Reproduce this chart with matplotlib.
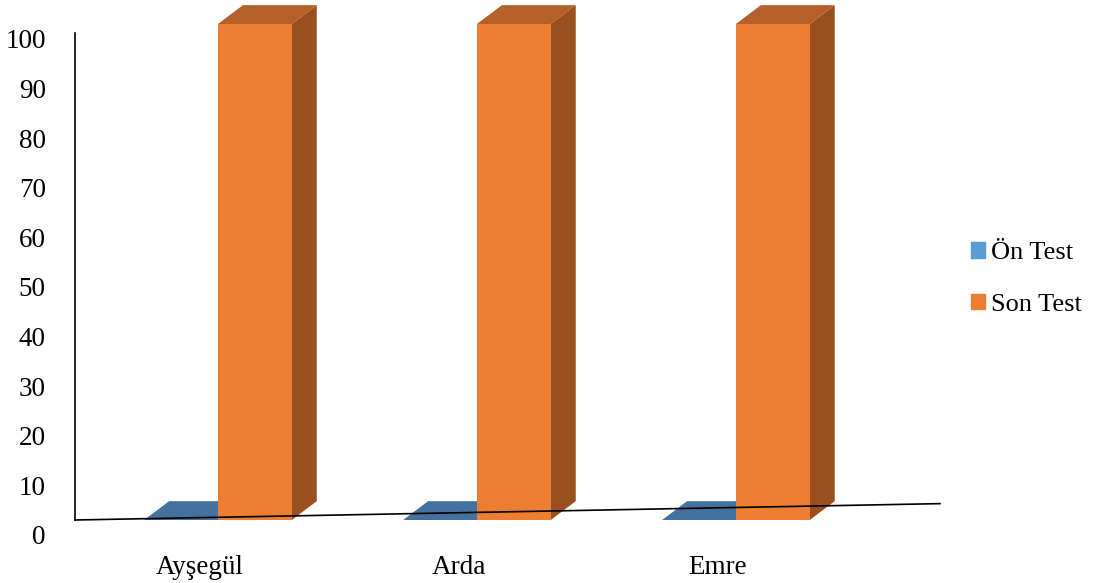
import matplotlib
matplotlib.use("Agg")
import matplotlib.pyplot as plt
from matplotlib.patches import Polygon, Patch
from matplotlib.transforms import ScaledTranslation
import numpy as np

plt.rcParams['font.family'] = ['Liberation Serif', 'DejaVu Serif']

# scores per student
students = ["Ayşegül", "Arda", "Emre"]
on_test = [0, 0, 0]
son_test = [100, 100, 100]
yticks = [0, 10, 20, 30, 40, 50, 60, 70, 80, 90, 100]

blue_front = "#5B9BD5"
blue_top = "#44729F"
orange_front = "#ED7D31"
orange_top = "#B5602A"
orange_side = "#9A4F20"

W, H = 1094, 583
fig = plt.figure(figsize=(W / 100, H / 100), dpi=100)
ax = fig.add_axes([75 / W, (H - 520) / H, (940 - 75) / W, 496 / H])

w = 0.285          # bar width in category units
ddx, ddy = 0.0965, 3.8   # fake 3d depth offset (x units, y units)
x = np.arange(len(students))


def box(ax, left, height, front, top, side, z):
    # front face through the normal bar call, then top and side faces
    if height > 0:
        ax.bar(left, height, width=w, align="edge", color=front, zorder=z + 2,
               linewidth=0)
        ax.add_patch(Polygon([(left + w, 0), (left + w + ddx, ddy),
                              (left + w + ddx, height + ddy), (left + w, height)],
                             closed=True, color=side, lw=0, zorder=z + 1,
                             clip_on=False))
    ax.add_patch(Polygon([(left, height), (left + ddx, height + ddy),
                          (left + w + ddx, height + ddy), (left + w, height)],
                         closed=True, color=top, lw=0, zorder=z, clip_on=False))


for i in range(len(students)):
    box(ax, x[i] - w, on_test[i], blue_front, blue_top, blue_top, 1)
    box(ax, x[i], son_test[i], orange_front, orange_top, orange_side, 3)

ax.set_xlim(-0.552, 2.788)
ax.set_ylim(0, 100)
ax.set_facecolor("none")

for s in ["top", "right", "bottom"]:
    ax.spines[s].set_visible(False)
ax.spines["left"].set_bounds(0, 98.2)
ax.spines["left"].set_linewidth(1.2)
ax.spines["left"].set_zorder(10)

# slanted floor line
ax.plot([0, 1], [0, 0.033], transform=ax.transAxes, color="black", lw=1.2,
        zorder=10, clip_on=False)

ax.set_yticks(yticks)
ax.set_yticklabels([str(t) for t in yticks], fontsize=19.5)
ax.tick_params(axis="y", length=0, pad=21)
shift = ScaledTranslation(0, -15 / 100, fig.dpi_scale_trans)
for lbl in ax.get_yticklabels():
    lbl.set_transform(lbl.get_transform() + shift)

ax.set_xticks(x - 0.07)
ax.set_xticklabels(students, fontsize=19.5)
ax.tick_params(axis="x", length=0, pad=25)

handles = [Patch(color=blue_front, label="Ön Test"),
           Patch(color=orange_front, label="Son Test")]
fig.legend(handles=handles, loc="center left",
           bbox_to_anchor=(971 / W, 1 - 279 / H), frameon=False,
           borderpad=0, borderaxespad=0,
           fontsize=19, handlelength=0.52, handleheight=0.52,
           handletextpad=0.22, labelspacing=1.1)

fig.savefig("out.png", dpi=100)
